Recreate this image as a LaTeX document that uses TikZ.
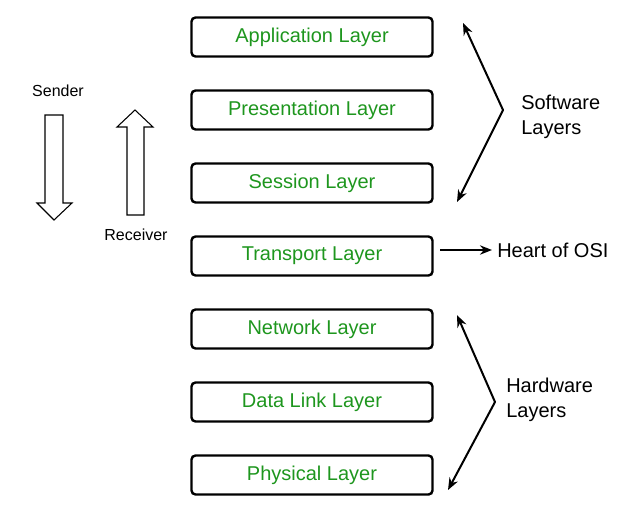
\documentclass[tikz,border=0pt]{standalone}
\usepackage{fontspec}
\setmainfont{Liberation Sans}
\usetikzlibrary{arrows.meta}

\definecolor{layergreen}{RGB}{30,150,30}

\tikzset{
  layerbox/.style={draw, line width=1.8pt, rounded corners=3pt,
    minimum width=180.75pt, minimum height=29.25pt, inner sep=0pt,
    text=layergreen, font=\fontsize{15}{18}\selectfont},
  sidelabel/.style={inner sep=0.75pt, align=left, font=\fontsize{15}{18.75}\selectfont},
  smalllabel/.style={inner sep=0.75pt, font=\fontsize{12}{14}\selectfont},
  sidearrow/.style={line width=1.5pt, line join=round, {Stealth[length=9pt,width=7pt]}-{Stealth[length=9pt,width=7pt]}},
  blockarrow/.style={draw, line width=0.8pt, line join=miter}
}

\begin{document}
\begin{tikzpicture}[x=0.75pt,y=0.75pt,yscale=-1,xscale=1]
\path[use as bounding box] (0,0) rectangle (623,514);

% Layers
\node[layerbox] (app) at (312,37) {Application Layer};
\node[layerbox] (pres) at (312,110) {Presentation Layer};
\node[layerbox] (sess) at (312,183) {Session Layer};
\node[layerbox] (trans) at (312,256) {Transport Layer};
\node[layerbox] (net) at (312,329) {Network Layer};
\node[layerbox] (dlink) at (312,402) {Data Link Layer};
\node[layerbox] (phys) at (312,475) {Physical Layer};

% Sender / Receiver
\node[smalllabel] (sender) at (58,91) {Sender};
\node[smalllabel] (receiver) at (136,235) {Receiver};
\draw[blockarrow] (45,115) -- (63,115) -- (63,203) -- (72,203) -- (54,220) -- (37,203) -- (45,203) -- cycle;
\draw[blockarrow] (127,215) -- (127,127) -- (117,127) -- (135,110) -- (153,127) -- (144,127) -- (144,215) -- cycle;

% Software Layers
\coordinate (swtop) at (463,23);
\coordinate (swbend) at (503,110);
\coordinate (swbot) at (457,202);
\draw[sidearrow] (swtop) -- (swbend) -- (swbot);
\node[sidelabel, anchor=west] (software) at (520,117) {Software\\Layers};

% Heart of OSI
\node[sidelabel, anchor=west] (heart) at (496,250) {Heart of OSI};
\draw[line width=1.5pt, -{Stealth[length=9pt,width=7pt]}, shorten <=5pt, shorten >=3pt] (trans.east |- heart.west) -- (heart.west);

% Hardware Layers
\coordinate (hwtop) at (457,315);
\coordinate (hwbend) at (495,402);
\coordinate (hwbot) at (448,490);
\draw[sidearrow] (hwtop) -- (hwbend) -- (hwbot);
\node[sidelabel, anchor=west] (hardware) at (505,400) {Hardware\\Layers};

\end{tikzpicture}
\end{document}
